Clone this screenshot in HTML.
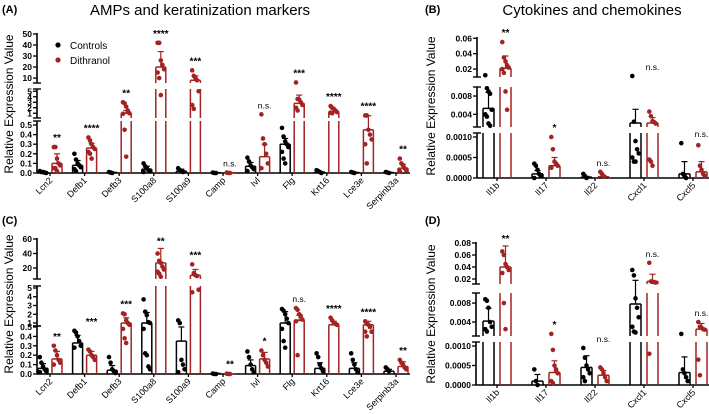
<!DOCTYPE html>
<html><head><meta charset="utf-8">
<style>
html,body{margin:0;padding:0;background:#fff;}
svg{display:block;font-family:"Liberation Sans",sans-serif;}
</style></head>
<body>
<svg id="fig" width="709" height="414" viewBox="0 0 709 414" xmlns="http://www.w3.org/2000/svg">
<text x="2" y="13" font-size="11" font-weight="bold">(A)</text>
<text x="200" y="15" font-size="15" text-anchor="middle">AMPs and keratinization markers</text>
<text x="425" y="13" font-size="11" font-weight="bold">(B)</text>
<text x="592" y="15" font-size="15" text-anchor="middle">Cytokines and chemokines</text>
<text x="2" y="224" font-size="11" font-weight="bold">(C)</text>
<text x="425" y="224" font-size="11" font-weight="bold">(D)</text>
<text transform="translate(13,104) rotate(-90)" font-size="12" text-anchor="middle">Relative Expression Value</text>
<text transform="translate(13,304) rotate(-90)" font-size="12" text-anchor="middle">Relative Expression Value</text>
<text transform="translate(435,106) rotate(-90)" font-size="12" text-anchor="middle">Relative Expression Value</text>
<text transform="translate(435,314) rotate(-90)" font-size="12" text-anchor="middle">Relative Expression Value</text>
<g>
<circle cx="58" cy="45" r="2.6" fill="#000"/>
<text x="70" y="49" font-size="10">Controls</text>
<circle cx="58" cy="60" r="2.6" fill="#a32222"/>
<text x="70" y="64" font-size="10">Dithranol</text>
</g>
</svg>
<script>
// ---------- data ----------
const catsAC = ["Lcn2","Defb1","Defb3","S100a8","S100a9","Camp","Ivl","Flg","Krt16","Lce3e","Serpinb3a"];
const catsBD = ["Il1b","Il17","Il22","Cxcl1","Cxcl5"];

const aCtrlMean = [0.01,0.08,0.005,0.04,0.02,0.003,0.07,0.3,0.01,0.005,0.005];
const aCtrlSd   = [0.005,0.05,0.003,0.03,0.02,0.002,0.04,0.06,0.005,0.003,0.003];
const aDithMean = [0.1,0.26,1.0,20,8,0.003,0.17,2.8,1.3,0.45,0.05];
const aDithSd   = [0.1,0.05,0.5,14,4,0.002,0.13,1.5,0.4,0.1,0.04];
const aCtrlPts = [[0.02,0.01,0.01,0.005,0],[0.2,0.14,0.1,0.08,0.06,0.04,0.02],[0.01,0.005,0],[0.1,0.07,0.05,0.03,0.02,0.01],[0.05,0.03,0.02,0.01],[0.005,0,0],[0.16,0.12,0.08,0.06,0.04,0.02],[0.47,0.38,0.33,0.3,0.27,0.22,0.15,0.1],[0.03,0.02,0.01,0],[0.01,0.005,0],[0.01,0.005,0]];
const aDithPts = [[0.27,0.27,0.15,0.1,0.08,0.05,0.05,0.02],[0.37,0.34,0.3,0.27,0.25,0.22,0.2,0.15],[3,2.8,2.2,1.5,1,0.9,0.45,0.17],[42,42,26,22,18,15,10,4.3],[17,12,10,8,5,2.5,1.8],[0.005,0,0],[0.8,0.36,0.3,0.2,0.1,0.05],[6,3.6,3.5,3,2.5,2,1.5],[2.3,2,1.8,1.5,1.2,1.1,1],[0.6,0.6,0.45,0.4,0.35,0.3,0.1],[0.15,0.1,0.08,0.05,0.03,0.02]];
const aSig = ["**","****","**","****","***","n.s.","n.s.","***","****","****","**"];

const cCtrlMean = [0.06,0.33,0.04,1.0,0.35,0.005,0.09,1.0,0.06,0.06,0.03];
const cCtrlSd   = [0.05,0.08,0.05,1.2,0.2,0.003,0.06,1.3,0.06,0.06,0.02];
const cDithMean = [0.16,0.2,1.0,27,10,0.002,0.16,1.3,0.8,0.8,0.08];
const cDithSd   = [0.08,0.04,0.6,20,8,0.002,0.07,0.6,0.4,0.4,0.05];
const cCtrlPts = [[0.18,0.12,0.08,0.05,0.03,0.02],[0.46,0.44,0.4,0.35,0.3,0.28],[0.18,0.12,0.05,0.03,0.01],[3.7,2.3,1.9,1.1,1,0.48,0.22,0.2,0.08,0.05],[1.3,1.0,0.15,0.1,0.05,0.02],[0.005,0,0],[0.24,0.18,0.1,0.05,0.02],[2.6,2.4,2,1.5,1,0.48,0.35,0.28],[0.22,0.18,0.1,0.06,0.03],[0.22,0.15,0.1,0.05,0.02],[0.07,0.05,0.03]];
const cDithPts = [[0.3,0.25,0.2,0.15,0.12,0.1],[0.26,0.24,0.2,0.18,0.15],[2.1,2,1.3,1,0.8,0.48,0.38,0.33],[40,30,27,22,18,15,12,8],[25,13,10,9,4.8,4.5],[0.003,0,0],[0.25,0.2,0.15,0.12,0.08],[2.7,2.5,2,1.8,1.4,1.2,0.2],[1.6,1.3,1,0.9,0.8],[1.2,0.9,0.8,0.5,0.45,0.45,0.4],[0.15,0.12,0.1,0.07,0.05]];
const cSig = ["**","***","***","**","***","**","*","n.s.","****","****","**"];

const bCtrlMean = [0.0053,0.0001,0.00002,0.0021,0.0001];
const bCtrlSd   = [0.0035,0.00008,0.00002,0.003,0.0003];
const bDithMean = [0.021,0.0003,0.00003,0.0021,0.00015];
const bDithSd   = [0.016,0.0002,0.00003,0.0012,0.00025];
const bCtrlPts = [[0.012,0.0097,0.009,0.0085,0.005,0.004,0.0035,0.002,0.0015],[0.00035,0.0003,0.0002,0.0001,0.00005,0],[0.0001,0.00005,0],[0.011,0.0024,0.0009,0.0007,0.0006,0.0005,0.0004,0.0004],[0.00085,0.0001,0.00005,0]];
const bDithPts = [[0.055,0.035,0.03,0.025,0.022,0.02,0.015,0.009,0.005],[0.001,0.0007,0.0004,0.00035,0.0003,0.00025],[0.00015,0.0001,0.00005],[0.0046,0.0036,0.0025,0.0023,0.002,0.00045,0.0004,0.0003],[0.0008,0.0003,0.0002,0.0001,0.00005]];
const bSig = ["**","*","n.s.","n.s.","n.s."];

const dCtrlMean = [0.0042,0.0001,0.00045,0.0078,0.00032];
const dCtrlSd   = [0.0027,0.00017,0.0003,0.01,0.0004];
const dDithMean = [0.04,0.00032,0.00025,0.016,0.0025];
const dDithSd   = [0.035,0.0003,0.00012,0.012,0.0012];
const dCtrlPts = [[0.0088,0.0085,0.007,0.004,0.003,0.0025,0.002],[0.0004,0.0001,0],[0.00095,0.0007,0.0005,0.0004,0.0003,0.0002,0.0001],[0.035,0.026,0.009,0.007,0.005,0.003,0.002,0.0018],[0.0015,0.0004,0.0003,0.0002,0.0001]];
const dDithPts = [[0.066,0.06,0.045,0.04,0.035,0.03,0.008,0.0025],[0.0015,0.0009,0.0005,0.0004,0.0003,0.0001,0.00005],[0.00045,0.0004,0.0003,0.0002,0.0001],[0.047,0.016,0.015,0.015,0.014,0.0008],[0.004,0.003,0.0028,0.0025,0.0024,0.00065,0.00025]];
const dSig = ["**","*","n.s.","n.s.","n.s."];

const aTicks = [[0,0.1,0.2,0.3,0.4,0.5],[1,2,3,4,5],[10,20,30,40,50]];
const aTickLabels = [["0.0","0.1","0.2","0.3","0.4","0.5"],["1","2","3","4","5"],["10","20","30","40","50"]];
const cTicks = [[0,0.1,0.2,0.3,0.4,0.5],[1,2,3,4,5],[20,40,60]];
const cTickLabels = [["0.0","0.1","0.2","0.3","0.4","0.5"],["1","2","3","4","5"],["20","40","60"]];
const bTicks = [[0,0.0005,0.001],[0.004,0.008],[0.02,0.04,0.06]];
const bTickLabels = [["0.0000","0.0005","0.0010"],["0.004","0.008"],["0.02","0.04","0.06"]];
const dTicks = [[0,0.0005,0.001],[0.004,0.008],[0.02,0.04,0.06,0.08]];
const dTickLabels = [["0.0000","0.0005","0.0010"],["0.004","0.008"],["0.02","0.04","0.06","0.08"]];

// ---------- layout ----------
const RED = "#a32222";
const svg = document.getElementById("fig");
const NS = "http://www.w3.org/2000/svg";
function mk(tag, attrs, parent){
  const e = document.createElementNS(NS, tag);
  for (const k in attrs) e.setAttribute(k, attrs[k]);
  (parent||svg).appendChild(e);
  return e;
}

function drawPanel(p){
  const g = mk("g", {});
  
  
  const segs = p.segs;
  function yv(v){
    let s = segs[segs.length-1];
    for (const sg of segs){ if (v <= sg.v1){ s = sg; break; } }
    return s.y0 + (v - s.v0) / (s.v1 - s.v0) * (s.y1 - s.y0);
  }
  function segOf(v){ for (let i=0;i<segs.length;i++){ if (v<=segs[i].v1) return i; } return segs.length-1; }
  const xc = i => p.x0 + i*p.dx;
  const ax = mk("g", {}, g);
  
  
  segs.forEach((s, si) => {
    mk("line", {x1:p.axX, x2:p.axX, y1:s.ax[0], y2:s.ax[1], stroke:"#000","stroke-width":1.6}, ax);
    if (si>0) mk("line", {x1:p.axX-4, x2:p.axX+4, y1:s.ax[0], y2:s.ax[0], stroke:"#000","stroke-width":1.4}, ax);
    if (si<segs.length-1) mk("line", {x1:p.axX-4, x2:p.axX+4, y1:s.ax[1], y2:s.ax[1], stroke:"#000","stroke-width":1.4}, ax);
    p.ticks[si].forEach((t, ti) => {
      const y = yv(t);
      mk("line", {x1:p.axX-4, x2:p.axX, y1:y, y2:y, stroke:"#000","stroke-width":1.3}, ax);
      const tl = mk("text", {x:p.axX-5, y:y+3, "font-size":8.5, "font-weight":"bold", "text-anchor":"end"}, ax);
      tl.textContent = p.tickLabels[si][ti];
      
      
    });
  });
  const xa = mk("line", {x1:p.axX, x2:p.axEnd, y1:segs[0].y0, y2:segs[0].y0, stroke:"#000","stroke-width":1.6}, g);
  
  

  p.cats.forEach((c, i) => {
    const cx = xc(i);
    mk("line", {x1:cx, x2:cx, y1:segs[0].y0, y2:segs[0].y0+3, stroke:"#000","stroke-width":1.3}, g);
    const lab = mk("text", {transform:`translate(${cx+3},${segs[0].y0+8}) rotate(-45)`, "font-size":9, "text-anchor":"end"}, g);
    lab.textContent = c;
    
    
    const series = [
      {mean:p.ctrlMean[i], sd:p.ctrlSd[i], pts:p.ctrlPts[i], col:"#000", off:-p.off, nm:"control"},
      {mean:p.dithMean[i], sd:p.dithSd[i], pts:p.dithPts[i], col:RED, off:p.off, nm:"dithranol"}
    ];
    let topY = 1e9;
    series.forEach(s => {
      const bx = cx + s.off;
      const bg = mk("g", {}, g);
      
      
      const ms = segOf(s.mean);
      for (let si=0; si<=ms; si++){
        const sg = segs[si];
        const yb = si===0 ? sg.y0 : sg.ax[0];
        const yt = si===ms ? yv(s.mean) : sg.ax[1];
        mk("line", {x1:bx-p.bw/2, x2:bx-p.bw/2, y1:yb, y2:yt, stroke:s.col,"stroke-width":1.5}, bg);
        mk("line", {x1:bx+p.bw/2, x2:bx+p.bw/2, y1:yb, y2:yt, stroke:s.col,"stroke-width":1.5}, bg);
        if (si===ms) mk("line", {x1:bx-p.bw/2, x2:bx+p.bw/2, y1:yt, y2:yt, stroke:s.col,"stroke-width":1.5}, bg);
      }
      const ym = yv(s.mean), ye = yv(s.mean + s.sd);
      mk("line", {x1:bx, x2:bx, y1:ym, y2:ye, stroke:s.col,"stroke-width":1.2}, bg);
      mk("line", {x1:bx-3, x2:bx+3, y1:ye, y2:ye, stroke:s.col,"stroke-width":1.2}, bg);
      topY = Math.min(topY, ye);
      s.pts.forEach((v, k) => {
        const jx = ((k % 5) - 2) * 1.6;
        const py = yv(v);
        const d = mk("circle", {cx:bx + jx, cy:py, r:2.3, fill:s.col}, bg);
        
        
        topY = Math.min(topY, py - 2);
      });
    });
    const sig = mk("text", {x:cx + p.off, y:topY - 4, "font-size": p.sig[i]==="n.s." ? 8.5 : 10, "font-weight": p.sig[i]==="n.s." ? "normal":"bold", "text-anchor":"middle"}, g);
    sig.textContent = p.sig[i];
    
    
  });
}

drawPanel({name:"panel-a", axX:37, axEnd:410, x0:50, dx:34.6, off:7, bw:10,
  segs:[{v0:0,v1:0.5,y0:173,y1:125,ax:[173,121]},{v0:0.5,v1:5.5,y0:116,y1:88.5,ax:[118,89]},{v0:5.5,v1:55,y0:83,y1:28.5,ax:[83,33]}],
  ticks:aTicks, tickLabels:aTickLabels, cats:catsAC,
  ctrlMean:aCtrlMean, ctrlSd:aCtrlSd, dithMean:aDithMean, dithSd:aDithSd, ctrlPts:aCtrlPts, dithPts:aDithPts, sig:aSig});
drawPanel({name:"panel-c", axX:37, axEnd:410, x0:50, dx:34.6, off:7, bw:10,
  segs:[{v0:0,v1:0.5,y0:374,y1:327,ax:[374,326]},{v0:0.5,v1:5.5,y0:327.4,y1:283.6,ax:[326,286]},{v0:5.5,v1:65,y0:278.5,y1:235.4,ax:[279,238]}],
  ticks:cTicks, tickLabels:cTickLabels, cats:catsAC,
  ctrlMean:cCtrlMean, ctrlSd:cCtrlSd, dithMean:cDithMean, dithSd:cDithSd, ctrlPts:cCtrlPts, dithPts:cDithPts, sig:cSig});
drawPanel({name:"panel-b", axX:477, axEnd:709, x0:497, dx:49, off:8.5, bw:11,
  segs:[{v0:0,v1:0.0011,y0:178,y1:132.9,ax:[178,133]},{v0:0.0011,v1:0.0105,y0:127.6,y1:84.6,ax:[127,87]},{v0:0.0105,v1:0.065,y0:76.4,y1:34.4,ax:[77,37]}],
  ticks:bTicks, tickLabels:bTickLabels, cats:catsBD,
  ctrlMean:bCtrlMean, ctrlSd:bCtrlSd, dithMean:bDithMean, dithSd:bDithSd, ctrlPts:bCtrlPts, dithPts:bDithPts, sig:bSig});
drawPanel({name:"panel-d", axX:476, axEnd:709, x0:497, dx:49, off:8.5, bw:11,
  segs:[{v0:0,v1:0.0011,y0:385,y1:342.1,ax:[385,342]},{v0:0.0011,v1:0.0105,y0:335.8,y1:291.2,ax:[336,293]},{v0:0.0105,v1:0.085,y0:284.7,y1:240,ax:[284,242]}],
  ticks:dTicks, tickLabels:dTickLabels, cats:catsBD,
  ctrlMean:dCtrlMean, ctrlSd:dCtrlSd, dithMean:dDithMean, dithSd:dDithSd, ctrlPts:dCtrlPts, dithPts:dDithPts, sig:dSig});
</script>
</body></html>
